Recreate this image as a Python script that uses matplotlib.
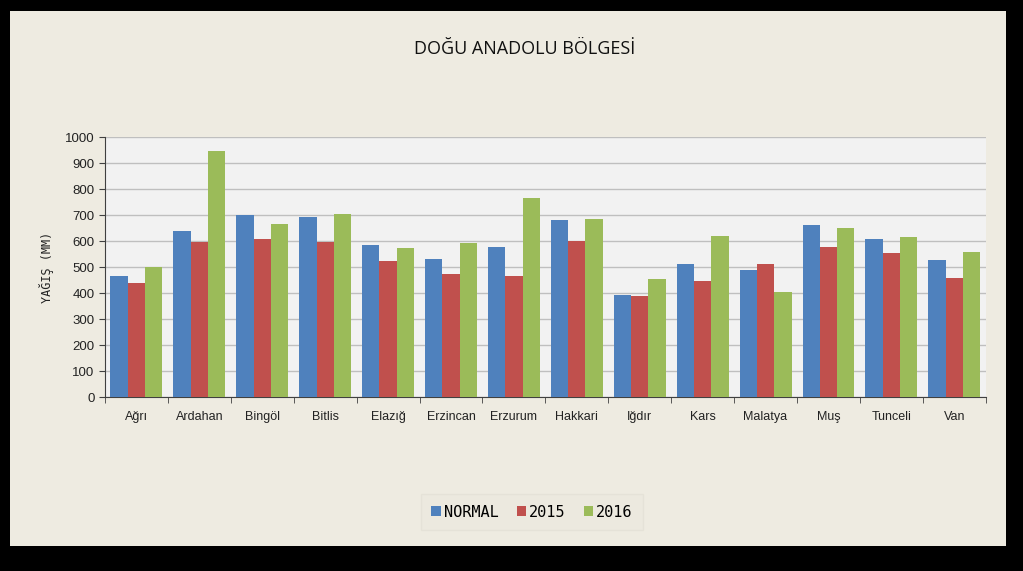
import matplotlib.pyplot as plt
import numpy as np
from matplotlib.patches import Rectangle

cities = ['Ağrı', 'Ardahan', 'Bingöl', 'Bitlis', 'Elazığ', 'Erzincan', 'Erzurum',
          'Hakkari', 'Iğdır', 'Kars', 'Malatya', 'Muş', 'Tunceli', 'Van']
normal = [465, 639, 699, 694, 586, 529, 577, 681, 391, 513, 490, 661, 606, 526]
y2015 = [438, 598, 607, 598, 522, 474, 465, 599, 387, 448, 510, 577, 554, 457]
y2016 = [499, 945, 667, 704, 575, 594, 766, 684, 455, 620, 403, 652, 616, 558]
series_names = ['NORMAL', '2015', '2016']
colors = ['#4F81BD', '#C0504D', '#9BBB59']

fig = plt.figure(figsize=(10.23, 5.71), dpi=100)
fig.patch.set_facecolor('black')
fig.patches.append(Rectangle((0.0098, 0.0438), 0.9736, 0.937, transform=fig.transFigure,
                             facecolor='#EEEBE1', edgecolor='none', zorder=-5))

ax = fig.add_axes([0.1026, 0.3047, 0.861, 0.4553])
ax.set_facecolor('#F2F2F2')

x = np.arange(len(cities))
w = 0.275
for i, (vals, name) in enumerate(zip([normal, y2015, y2016], series_names)):
    ax.bar(x + (i - 1) * w, vals, width=w, color=colors[i], label=name, zorder=3)

ax.set_xlim(-0.5, len(cities) - 0.5)
ax.set_ylim(0, 1000)
ax.set_yticks(range(0, 1001, 100))
ax.yaxis.grid(True, color='#BFBFBF', linewidth=1, zorder=0)
ax.set_xticks(x)
ax.set_xticklabels(cities, fontsize=9, family='Liberation Sans', color='#222222')
ax.set_xticks(np.arange(-0.5, len(cities), 1), minor=True)
ax.tick_params(axis='x', which='major', length=0, pad=10)
ax.tick_params(axis='x', which='minor', length=4, color='#404040')
ax.tick_params(axis='y', length=4, color='#404040', labelsize=9.5, labelcolor='#222222')
for lab in ax.get_yticklabels():
    lab.set_family('Liberation Sans')
for s in ['top', 'right']:
    ax.spines[s].set_visible(False)
for s in ['left', 'bottom']:
    ax.spines[s].set_color('#404040')
ax.set_ylabel('YAĞIŞ (MM)', family='DejaVu Sans Mono', fontsize=8.5, labelpad=8,
              color='#222222')

fig.text(0.513, 0.914, 'DOĞU ANADOLU BÖLGESİ', ha='center', va='center',
         fontsize=13, family='Open Sans', color='#111111')

leg = fig.legend(loc='center', bbox_to_anchor=(0.52, 0.103), ncol=3, frameon=True,
                 prop={'family': 'DejaVu Sans Mono', 'size': 11},
                 handlelength=0.6, handleheight=0.6, handletextpad=0.2, columnspacing=1.2)
leg.get_frame().set_facecolor('#ECE9DF')
leg.get_frame().set_edgecolor('#E4E1D6')
leg.get_frame().set_boxstyle('square')

fig.savefig('out.png', dpi=100, facecolor=fig.get_facecolor())
